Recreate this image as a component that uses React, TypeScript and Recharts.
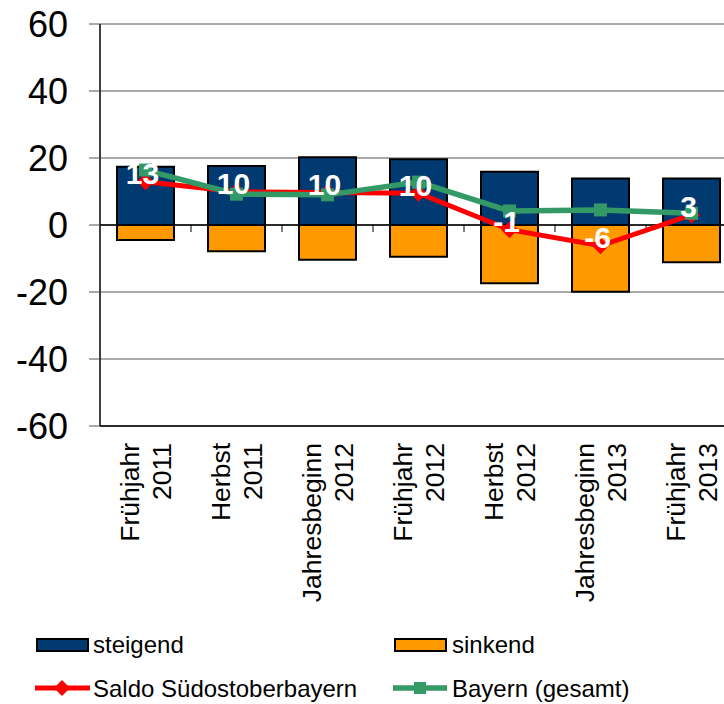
import React from "react";
import {
    ComposedChart, Bar, Line, XAxis, YAxis, CartesianGrid, ReferenceLine, Legend
} from "recharts";

// Zeiträume der Umfrage (zwei Zeilen je Kategorie)
const periods = ["Frühjahr", "Herbst", "Jahresbeginn", "Frühjahr", "Herbst", "Jahresbeginn", "Frühjahr"];
const years = ["2011", "2011", "2012", "2012", "2012", "2013", "2013"];

// Anteile in Prozent
const steigend = [17.4, 17.6, 20.2, 19.6, 15.9, 13.9, 13.9];
const sinkend = [-4.5, -7.8, -10.4, -9.5, -17.4, -19.9, -11.1];
const saldo = [12.9, 9.9, 9.7, 9.5, -1.4, -6.2, 3.0];
const bayern = [16.4, 9.2, 9.0, 12.8, 4.2, 4.5, 3.5];

const yTicks = [-60, -40, -20, 0, 20, 40, 60];

const data = periods.map((p, i) => ({
    name: `${p} ${years[i]}`,
    steigend: steigend[i],
    sinkend: sinkend[i],
    saldo: saldo[i],
    bayern: bayern[i],
}));

const FONT = '"Liberation Sans", Arial, sans-serif';
const NAVY = "#013A70";
const ORANGE = "#FF9900";
const RED = "#FF0000";
const GREEN = "#339966";

// eslint-disable-next-line @typescript-eslint/no-explicit-any
const XTick = ({ x, y, payload }: any) => {
    const i = payload.index;
    return (
        <g transform={`translate(${x},${y + 17})`}>
            <text transform="rotate(-90)" textAnchor="end" fontSize={26.5} fontFamily={FONT} fill="#000">
                <tspan x={0} y={-7}>{periods[i]}</tspan>
                <tspan x={0} y={25.5}>{years[i]}</tspan>
            </text>
        </g>
    );
};

// Nulllinie mit kleinen Strichen zwischen den Kategorien
// eslint-disable-next-line @typescript-eslint/no-explicit-any
const ZeroLine = (props: any) => {
    const { x1, x2, y1 } = props;
    const n = periods.length;
    const step = (x2 - x1) / n;
    const marks = [];
    for (let k = 1; k < n; k++) {
        marks.push(<line key={k} x1={x1 + k * step} x2={x1 + k * step} y1={y1} y2={y1 + 7} stroke="#000" strokeWidth={1} />);
    }
    return (
        <g>
            <line x1={x1} x2={x2} y1={y1} y2={y1} stroke="#000" strokeWidth={1.5} />
            {marks}
        </g>
    );
};

// eslint-disable-next-line @typescript-eslint/no-explicit-any
const Diamond = ({ cx, cy, index }: any) => (
    <polygon key={`d-${index}`} points={`${cx},${cy - 8.5} ${cx + 8.5},${cy} ${cx},${cy + 8.5} ${cx - 8.5},${cy}`} fill={RED} />
);

// eslint-disable-next-line @typescript-eslint/no-explicit-any
const Square = ({ cx, cy, index }: any) => (
    <rect key={`s-${index}`} x={cx - 6.5} y={cy - 6.5} width={13} height={13} fill={GREEN} />
);

// Datenbeschriftung des Saldos
// eslint-disable-next-line @typescript-eslint/no-explicit-any
const SaldoLabel = ({ cx, cy, index, payload }: any) => (
    <text key={`l-${index}`} x={cx - 3} y={cy - 8} textAnchor="middle" dominantBaseline="central"
        fontSize={30} fontWeight="bold" fontFamily={FONT} fill="#fff">
        {Math.round(payload.saldo)}
    </text>
);

const renderLegend = () => {
    const txt: React.CSSProperties = { position: "absolute", fontSize: 24, fontFamily: FONT, color: "#000", lineHeight: "24px" };
    return (
        <div style={{ position: "relative", height: 80, width: 724 }}>
            <div style={{ position: "absolute", left: 36, top: 14, width: 49, height: 10, background: NAVY, border: "2px solid #000" }} />
            <div style={{ ...txt, left: 93, top: 9 }}>steigend</div>
            <div style={{ position: "absolute", left: 394, top: 14, width: 49, height: 10, background: ORANGE, border: "2px solid #000" }} />
            <div style={{ ...txt, left: 452, top: 9 }}>sinkend</div>

            <svg style={{ position: "absolute", left: 0, top: 50 }} width={724} height={30}>
                <line x1={35} x2={90} y1={14} y2={14} stroke={RED} strokeWidth={5} />
                <polygon points="62,6 70,14 62,22 54,14" fill={RED} />
                <line x1={393} x2={447} y1={14} y2={14} stroke={GREEN} strokeWidth={5.5} />
                <rect x={414} y={8} width={12} height={12} fill={GREEN} />
            </svg>
            <div style={{ ...txt, left: 93, top: 53 }}>Saldo Südostoberbayern</div>
            <div style={{ ...txt, left: 452, top: 53 }}>Bayern (gesamt)</div>
        </div>
    );
};

export default function App() {
    return (
        <div style={{ position: "absolute", left: 0, top: 0, width: 724, height: 704, overflow: "hidden", background: "#fff", fontFamily: FONT }}>
            <ComposedChart width={737} height={704} data={data} stackOffset="sign"
                margin={{ top: 24, right: 0, left: 0, bottom: 0 }}>
                <CartesianGrid vertical={false} stroke="#555" strokeWidth={1} />
                <XAxis dataKey="name" height={198} interval={0} tick={<XTick />} tickSize={0} tickMargin={0}
                    axisLine={{ stroke: "#000", strokeWidth: 1.5 }} tickLine={false} />
                <YAxis domain={[-60, 60]} ticks={yTicks} width={100} tickSize={11} tickMargin={21}
                    tick={{ fontSize: 36, fill: "#000", fontFamily: FONT }}
                    axisLine={{ stroke: "#000", strokeWidth: 1.5 }} tickLine={{ stroke: "#555" }} />
                <Legend verticalAlign="bottom" align="left" content={renderLegend} />
                <Bar dataKey="steigend" stackId="a" fill={NAVY} stroke="#000" strokeWidth={2} barSize={57} isAnimationActive={false} />
                <Bar dataKey="sinkend" stackId="a" fill={ORANGE} stroke="#000" strokeWidth={2} barSize={57} isAnimationActive={false} />
                <ReferenceLine y={0} shape={ZeroLine} />
                <Line dataKey="saldo" stroke={RED} strokeWidth={5} dot={Diamond} activeDot={false} isAnimationActive={false} />
                <Line dataKey="bayern" stroke={GREEN} strokeWidth={5.5} dot={Square} activeDot={false} isAnimationActive={false} />
                <Line dataKey="saldo" stroke="none" dot={SaldoLabel} activeDot={false} legendType="none" isAnimationActive={false} />
            </ComposedChart>
        </div>
    );
}
